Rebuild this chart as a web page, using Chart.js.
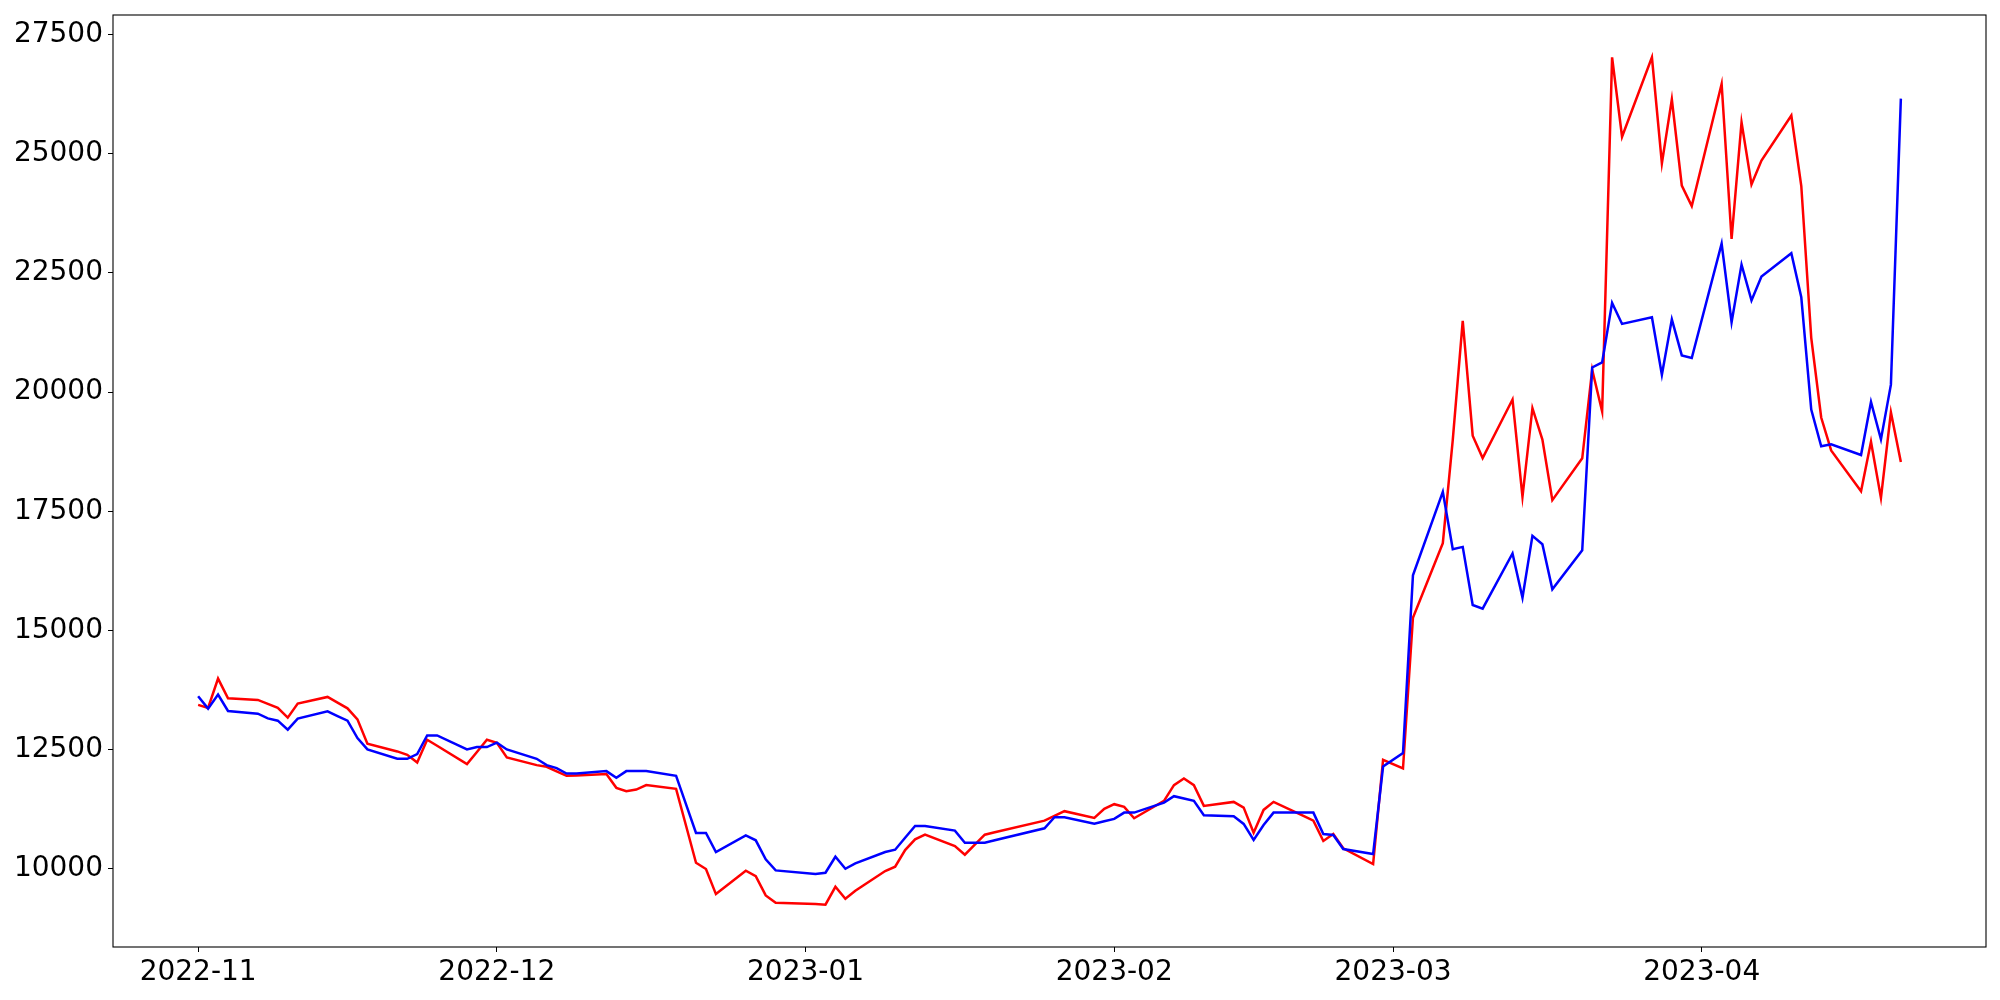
<!DOCTYPE html>
<html>
<head>
<meta charset="utf-8">
<script src="https://cdn.jsdelivr.net/npm/chart.js@4.4.0/dist/chart.umd.min.js"></script>
<style>
  html, body { margin: 0; padding: 0; background: #fff; }
  #wrap { width: 2000px; height: 1000px; position: relative; }
</style>
</head>
<body>
<div id="wrap"><canvas id="myChart"></canvas></div>
<script>
// trading days (Nov 2022 - Apr 2023)
const dates = [
  "2022-11-01", "2022-11-02", "2022-11-03", "2022-11-04", "2022-11-07", "2022-11-08", "2022-11-09", "2022-11-10", "2022-11-11",
  "2022-11-14", "2022-11-15", "2022-11-16", "2022-11-17", "2022-11-18", "2022-11-21", "2022-11-22", "2022-11-23", "2022-11-24",
  "2022-11-25", "2022-11-28", "2022-11-29", "2022-11-30",
  "2022-12-01", "2022-12-02", "2022-12-05", "2022-12-06", "2022-12-07", "2022-12-08", "2022-12-09", "2022-12-12", "2022-12-13",
  "2022-12-14", "2022-12-15", "2022-12-16", "2022-12-19", "2022-12-20", "2022-12-21", "2022-12-22", "2022-12-23", "2022-12-26",
  "2022-12-27", "2022-12-28", "2022-12-29",
  "2023-01-02", "2023-01-03", "2023-01-04", "2023-01-05", "2023-01-06", "2023-01-09", "2023-01-10", "2023-01-11", "2023-01-12",
  "2023-01-13", "2023-01-16", "2023-01-17", "2023-01-18", "2023-01-19", "2023-01-20", "2023-01-25", "2023-01-26", "2023-01-27",
  "2023-01-30", "2023-01-31",
  "2023-02-01", "2023-02-02", "2023-02-03", "2023-02-06", "2023-02-07", "2023-02-08", "2023-02-09", "2023-02-10", "2023-02-13",
  "2023-02-14", "2023-02-15", "2023-02-16", "2023-02-17", "2023-02-20", "2023-02-21", "2023-02-22", "2023-02-23", "2023-02-24",
  "2023-02-27", "2023-02-28",
  "2023-03-02", "2023-03-03", "2023-03-06", "2023-03-07", "2023-03-08", "2023-03-09", "2023-03-10", "2023-03-13", "2023-03-14",
  "2023-03-15", "2023-03-16", "2023-03-17", "2023-03-20", "2023-03-21", "2023-03-22", "2023-03-23", "2023-03-24", "2023-03-27",
  "2023-03-28", "2023-03-29", "2023-03-30", "2023-03-31",
  "2023-04-03", "2023-04-04", "2023-04-05", "2023-04-06", "2023-04-07", "2023-04-10", "2023-04-11", "2023-04-12", "2023-04-13",
  "2023-04-14", "2023-04-17", "2023-04-18", "2023-04-19", "2023-04-20", "2023-04-21"
];

const redValues = [
  13436, 13373, 13989, 13575, 13541, 13457, 13373, 13169, 13463, 13604, 13485, 13365, 13133, 12622, 12460, 12390, 12228, 12706,
  12580, 12194, 12449, 12706,
  12643, 12334, 12173, 12138, 12043, 11948, 11955, 11984, 11696, 11626, 11660, 11753, 11675, 10900, 10124, 9992, 9466, 9956,
  9844, 9438, 9283,
  9258, 9245, 9619, 9367, 9535, 9950, 10040, 10391, 10616, 10713, 10476, 10293, 10503, 10713, 10764, 11008, 11107, 11206,
  11065, 11254,
  11353, 11296, 11058, 11422, 11753, 11891, 11753, 11317, 11401, 11281, 10755, 11233, 11401, 11107, 11008, 10581, 10728, 10427,
  10097, 12285,
  12102, 15266, 16830, 19000, 21494, 19087, 18618, 19845, 17804, 19664, 19003, 17734, 18612, 20470, 19592, 27025, 25360, 27025,
  24800, 26143, 24335, 23903,
  26466, 23214, 25662, 24356, 24858, 25805, 24325, 21139, 19467, 18776, 17918, 18958, 17780, 19576, 18536
];

const blueValues = [
  13617, 13358, 13653, 13309, 13253, 13154, 13105, 12916, 13148, 13301, 13203, 13105, 12741, 12502, 12306, 12306, 12405, 12796,
  12796, 12502, 12552, 12552,
  12643, 12502, 12306, 12173, 12110, 11997, 11997, 12047, 11906, 12047, 12047, 12047, 11948, 11350, 10749, 10749, 10349, 10700,
  10595, 10196, 9964,
  9886, 9914, 10250, 9998, 10111, 10349, 10398, 10648, 10896, 10896, 10798, 10545, 10545, 10545, 10596, 10847, 11079, 11079,
  10945, 10995,
  11044, 11176, 11176, 11387, 11521, 11471, 11422, 11121, 11100, 10938, 10602, 10917, 11176, 11176, 11176, 10728, 10707, 10412,
  10307, 12144,
  12426, 16156, 17909, 16703, 16752, 15532, 15456, 16613, 15687, 16983, 16809, 15862, 16682, 20518, 20623, 21873, 21431, 21570,
  20364, 21528, 20770, 20716,
  23115, 21466, 22676, 21925, 22426, 22913, 21990, 19634, 18863, 18907, 18681, 19794, 19009, 20157, 26160
];

const xTickLabels = ["2022-11", "2022-12", "2023-01", "2023-02", "2023-03", "2023-04"];
const yTicks = [10000, 12500, 15000, 17500, 20000, 22500, 25000, 27500];

// day number since first month tick
const DAY = 86400000;
const origin = Date.UTC(2022, 10, 1);
const toDay = (s) => {
  const [y, m, d] = s.split("-").map(Number);
  return (Date.UTC(y, m - 1, d || 1) - origin) / DAY;
};

const xs = dates.map(toDay);
const xTickValues = xTickLabels.map(toDay);

// matplotlib-like 5% margins
const xMin = Math.min(...xs), xMax = Math.max(...xs);
const allY = redValues.concat(blueValues);
const yMin = Math.min(...allY), yMax = Math.max(...allY);
const xPad = (xMax - xMin) * 0.05, yPad = (yMax - yMin) * 0.05;

const toPoints = (vals) => vals.map((v, i) => ({ x: xs[i], y: v }));

// frame around the plot area
const framePlugin = {
  id: "frame",
  afterDraw(chart) {
    const { ctx, chartArea: a } = chart;
    ctx.save();
    ctx.strokeStyle = "#000";
    ctx.lineWidth = 1.1;
    ctx.strokeRect(a.left, a.top, a.right - a.left, a.bottom - a.top);
    ctx.restore();
  }
};

Chart.defaults.font.family = "'DejaVu Sans', sans-serif";
Chart.defaults.font.size = 28;
Chart.defaults.color = "#000";

const ctx = document.getElementById("myChart").getContext("2d");
const myChart = new Chart(ctx, {
  type: "line",
  data: {
    datasets: [
      {
        label: "blue",
        data: toPoints(blueValues),
        borderColor: "#0000ff",
        borderWidth: 2.5,
        pointRadius: 0,
        tension: 0,
        fill: false
      },
      {
        label: "red",
        data: toPoints(redValues),
        borderColor: "#ff0000",
        borderWidth: 2.5,
        pointRadius: 0,
        tension: 0,
        fill: false
      }
    ]
  },
  options: {
    responsive: true,
    maintainAspectRatio: false,
    animation: false,
    devicePixelRatio: 1,
    layout: { padding: { top: 15, right: 14, left: 0, bottom: 0 } },
    plugins: {
      legend: { display: false },
      tooltip: { enabled: false }
    },
    scales: {
      x: {
        type: "linear",
        min: xMin - xPad,
        max: xMax + xPad,
        afterBuildTicks: (scale) => {
          scale.ticks = xTickValues.map(v => ({ value: v }));
        },
        afterFit: (scale) => {
          scale.height = 53;
          scale.paddingLeft = 0;
          scale.paddingRight = 0;
        },
        ticks: {
          autoSkip: false,
          maxRotation: 0,
          padding: 4,
          callback: (value) => {
            const i = xTickValues.indexOf(value);
            return i >= 0 ? xTickLabels[i] : "";
          }
        },
        grid: { display: true, drawOnChartArea: false, drawTicks: true, tickLength: 5, color: "#000", lineWidth: 1 },
        border: { display: false }
      },
      y: {
        type: "linear",
        min: yMin - yPad,
        max: yMax + yPad,
        afterBuildTicks: (scale) => {
          scale.ticks = yTicks.map(v => ({ value: v }));
        },
        afterFit: (scale) => {
          scale.width = 113;
          scale.paddingTop = 0;
          scale.paddingBottom = 0;
        },
        ticks: {
          autoSkip: false,
          padding: 5,
          callback: (value) => String(value)
        },
        grid: { display: true, drawOnChartArea: false, drawTicks: true, tickLength: 5, color: "#000", lineWidth: 1 },
        border: { display: false }
      }
    }
  },
  plugins: [framePlugin]
});
</script>
</body>
</html>
